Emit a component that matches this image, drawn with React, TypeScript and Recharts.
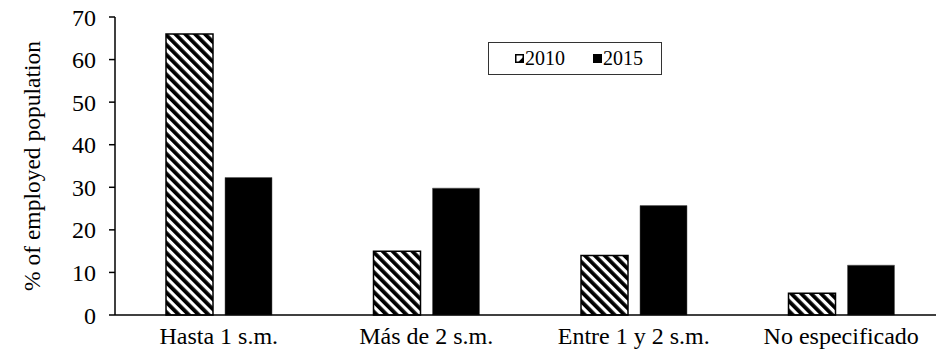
import React from 'react';
import { BarChart, Bar, XAxis, YAxis, Legend, Label } from 'recharts';

const categories = ['Hasta 1 s.m.', 'Más de 2 s.m.', 'Entre 1 y 2 s.m.', 'No especificado'];
const values2010 = [66.0, 15.0, 14.0, 5.1];
const values2015 = [32.3, 29.8, 25.7, 11.7];
const yTicks = [0, 10, 20, 30, 40, 50, 60, 70];
const boundaryTicks = [0, 1, 2, 3, 4];

const data = categories.map((name, i) => ({
  name,
  y2010: values2010[i],
  y2015: values2015[i],
}));

const FONT = '"Liberation Serif", "Times New Roman", serif';

function HatchIcon() {
  return (
    <svg width={9} height={9} style={{ display: 'block' }}>
      <rect x={0.75} y={0.75} width={7.5} height={7.5} fill="#fff" stroke="#000" strokeWidth={1.5} />
      <polygon points="3,8.25 8.25,8.25 8.25,3" fill="#000" />
    </svg>
  );
}

function LegendBox() {
  return (
    <div
      style={{
        boxSizing: 'border-box',
        width: 174,
        height: 33,
        border: '1px solid #333',
        background: '#fff',
        display: 'flex',
        alignItems: 'center',
        paddingLeft: 26,
        fontFamily: FONT,
        fontSize: 20,
        color: '#000',
      }}
    >
      <HatchIcon />
      <span style={{ marginLeft: 1 }}>2010</span>
      <span style={{ width: 9, height: 9, background: '#000', marginLeft: 28, display: 'inline-block' }} />
      <span style={{ marginLeft: 1 }}>2015</span>
    </div>
  );
}

export default function App() {
  return (
    <div style={{ position: 'absolute', left: 0, top: 0, width: 936, height: 356, overflow: 'hidden', background: '#fff' }}>
      <BarChart
        width={945}
        height={356}
        data={data}
        margin={{ top: 17, right: 0, bottom: 0, left: 0 }}
        barSize={47}
        barGap={12}
      >
        <defs>
          <pattern id="hatch" patternUnits="userSpaceOnUse" width={7} height={7} patternTransform="rotate(-45)">
            <rect x={0} y={0} width={7} height={7} fill="#fff" />
            <rect x={0} y={0} width={3.8} height={7} fill="#000" />
          </pattern>
        </defs>
        <XAxis
          xAxisId="bounds"
          type="number"
          domain={[0, 4]}
          ticks={boundaryTicks}
          allowDataOverflow
          axisLine={false}
          tick={false}
          tickSize={6}
          tickLine={{ stroke: '#000', strokeWidth: 1.5 }}
          height={0}
        />
        <XAxis
          dataKey="name"
          axisLine={{ stroke: '#000', strokeWidth: 1.5 }}
          tickLine={false}
          tickSize={6}
          tickMargin={6}
          interval={0}
          height={41}
          tick={{ fill: '#000', fontSize: 24, fontFamily: FONT }}
        />
        <YAxis
          width={115}
          domain={[0, 70]}
          ticks={yTicks}
          interval={0}
          axisLine={{ stroke: '#000', strokeWidth: 1.5 }}
          tickLine={{ stroke: '#000', strokeWidth: 1.5 }}
          tickSize={6}
          tickMargin={13}
          tick={{ fill: '#000', fontSize: 24, fontFamily: FONT }}
        >
          <Label
            content={() => (
              <text
                x={32}
                y={166}
                transform="rotate(-90 32 166)"
                textAnchor="middle"
                dominantBaseline="central"
                fontFamily={FONT}
                fontSize={23.5}
                fill="#000"
              >
                % of employed population
              </text>
            )}
          />
        </YAxis>
        <Legend
          layout="horizontal"
          verticalAlign="middle"
          align="center"
          content={() => <LegendBox />}
          wrapperStyle={{ left: 488, top: 42, width: 174, height: 33 }}
        />
        <Bar dataKey="y2010" name="2010" fill="url(#hatch)" stroke="#000" strokeWidth={1.5} isAnimationActive={false} />
        <Bar dataKey="y2015" name="2015" fill="#000" stroke="#555" strokeWidth={0.5} isAnimationActive={false} />
      </BarChart>
    </div>
  );
}
